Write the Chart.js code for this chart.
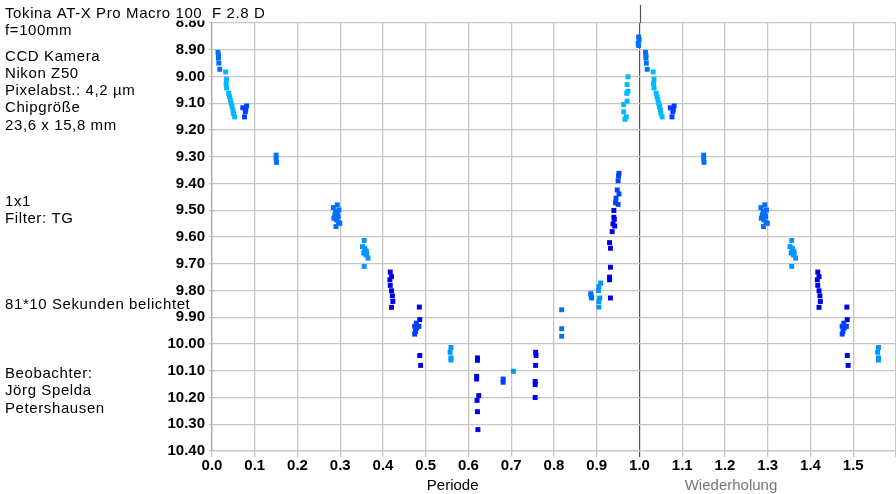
<!DOCTYPE html>
<html>
<head>
<meta charset="utf-8">
<script src="https://cdn.jsdelivr.net/npm/chart.js@4.4.1/dist/chart.umd.min.js"></script>
<style>
  html, body { margin: 0; padding: 0; background: #fff; overflow: hidden; }
  canvas { display: block; }
</style>
</head>
<body>
<canvas id="myChart" width="900" height="494"></canvas>
<script>
// header / observer text
const titleText = 'Tokina AT-X Pro Macro 100';
const lensText = 'F 2.8 D';
const cameraLines = ['f=100mm', 'CCD Kamera', 'Nikon Z50', 'Pixelabst.: 4,2 µm', 'Chipgröße', '23,6 x 15,8 mm'];
const filterLines = ['1x1', 'Filter: TG'];
const exposureLines = ['81*10 Sekunden belichtet'];
const observerLines = ['Beobachter:', 'Jörg Spelda', 'Petershausen'];
const xTitle = 'Periode';
const xTitleRepeat = 'Wiederholung';

// phase / magnitude, one pair of arrays per colour
const mediumPhase = [0.014, 0.015, 0.015, 0.016, 0.018, 0.150, 0.150, 0.151,
  0.284, 0.293, 0.297, 0.287, 0.295, 0.291, 0.299, 0.290, 0.285, 0.289, 0.293, 0.296,
  0.818, 0.818, 0.818, 0.886, 0.887, 0.888, 0.998, 0.999, 0.997, 0.998];
const mediumMag = [8.910, 8.921, 8.931, 8.950, 8.973, 9.294, 9.306, 9.321,
  9.490, 9.480, 9.499, 9.518, 9.524, 9.536, 9.549, 9.561, 9.530, 9.505, 9.512, 9.545,
  9.872, 9.943, 9.971, 9.812, 9.820, 9.828, 8.852, 8.862, 8.877, 8.884];

const cyanPhase = [0.032, 0.034, 0.033, 0.034, 0.039, 0.041, 0.043, 0.045, 0.047, 0.049, 0.050, 0.053,
  0.973, 0.971, 0.973, 0.970, 0.971, 0.963, 0.963, 0.969, 0.966];
const cyanMag = [8.983, 9.010, 9.026, 9.043, 9.063, 9.076, 9.088, 9.101, 9.113, 9.126, 9.138, 9.151,
  9.001, 9.030, 9.055, 9.063, 9.092, 9.105, 9.132, 9.151, 9.160];

const skyPhase = [0.356, 0.352, 0.357, 0.361, 0.355, 0.365, 0.356, 0.360, 0.358, 0.362,
  0.559, 0.557, 0.559, 0.559, 0.705,
  0.909, 0.905, 0.904, 0.907, 0.905, 0.905];
const skyMag = [9.613, 9.636, 9.642, 9.654, 9.660, 9.679, 9.710, 9.667, 9.648, 9.662,
  10.013, 10.031, 10.052, 10.060, 10.102,
  9.772, 9.785, 9.800, 9.828, 9.841, 9.862];

const royalPhase = [0.072, 0.081, 0.078, 0.076, 0.079,
  0.478, 0.474, 0.484, 0.476, 0.474, 0.479,
  0.681, 0.681,
  0.952, 0.951, 0.950, 0.948, 0.952, 0.945, 0.944, 0.950];
const royalMag = [9.117, 9.110, 9.132, 9.151, 9.122,
  9.922, 9.934, 9.934, 9.953, 9.963, 9.940,
  10.131, 10.143,
  9.362, 9.372, 9.390, 9.424, 9.439, 9.455, 9.472, 9.478];

const darkPhase = [0.417, 0.420, 0.416, 0.417, 0.420, 0.422, 0.423, 0.420,
  0.485, 0.486, 0.486, 0.488,
  0.621, 0.621, 0.619, 0.619, 0.624, 0.620, 0.621, 0.622,
  0.757, 0.758, 0.757, 0.756, 0.756, 0.756,
  0.940, 0.940, 0.941, 0.938, 0.942, 0.936, 0.930, 0.932, 0.932, 0.930, 0.930, 0.932];
const darkMag = [9.731, 9.748, 9.760, 9.781, 9.801, 9.820, 9.841, 9.863,
  9.862, 9.909, 10.043, 10.080,
  10.052, 10.061, 10.121, 10.131, 10.193, 10.211, 10.253, 10.320,
  10.031, 10.043, 10.080, 10.140, 10.152, 10.200,
  9.501, 9.526, 9.534, 9.551, 9.559, 9.580, 9.621, 9.642, 9.713, 9.750, 9.760, 9.828];

const xMax = 1.6;

// phase points plus their repetition one period later
function series(phase, mag) {
    const pts = phase.map((p, i) => ({x: p, y: mag[i]}));
    const rep = pts.filter(p => p.x + 1 <= xMax).map(p => ({x: p.x + 1, y: p.y}));
    return pts.concat(rep);
}

function makeSet(label, phase, mag, color) {
    return {
        label: label,
        data: series(phase, mag),
        backgroundColor: color,
        borderColor: color,
        pointStyle: 'rect',
        pointRadius: 3.5,
        pointBorderWidth: 0,
        showLine: false
    };
}

const sideTextPlugin = {
    id: 'sideText',
    afterDraw(chart) {
        const ctx = chart.ctx;
        const xs = chart.scales.x;
        const area = chart.chartArea;
        ctx.save();

        // dark marker at phase 1.0, running up past the plot top
        const x1 = Math.round(xs.getPixelForValue(1)) + 0.5;
        ctx.strokeStyle = '#555';
        ctx.lineWidth = 1.2;
        ctx.beginPath();
        ctx.moveTo(x1, 5);
        ctx.lineTo(x1, area.top);
        ctx.stroke();

        // header band hides upper half of the first y label, like the original
        ctx.fillStyle = '#fff';
        ctx.fillRect(0, 0, area.left - 3, 20.5);

        ctx.fillStyle = '#000';
        ctx.font = '15px "Liberation Sans", Arial, sans-serif';
        ctx.letterSpacing = '0.6px';
        ctx.textAlign = 'left';
        ctx.textBaseline = 'alphabetic';
        ctx.fillText(titleText, 5, 18);
        ctx.fillText(lensText, area.left, 18);

        const lh = 17.3;
        ctx.fillText(cameraLines[0], 5, 35);
        cameraLines.slice(1).forEach((t, i) => ctx.fillText(t, 5, 60.5 + i * lh));
        filterLines.forEach((t, i) => ctx.fillText(t, 5, 206 + i * lh));
        exposureLines.forEach((t, i) => ctx.fillText(t, 5, 309 + i * lh));
        observerLines.forEach((t, i) => ctx.fillText(t, 5, 378 + i * lh));

        ctx.letterSpacing = '0px';
        ctx.textAlign = 'center';
        ctx.fillText(xTitle, xs.getPixelForValue(0.563), 489.5);
        ctx.fillStyle = '#777';
        ctx.fillText(xTitleRepeat, xs.getPixelForValue(1.214), 489.5);
        ctx.restore();
    }
};

const gridGray = '#c6c6c6';
const tickFont = { family: '"Liberation Sans", Arial, sans-serif', size: 15, weight: 'bold' };

const config = {
    type: 'scatter',
    data: {
        datasets: [
            makeSet('medium', mediumPhase, mediumMag, '#0070ff'),
            makeSet('cyan', cyanPhase, cyanMag, '#00b8ff'),
            makeSet('sky', skyPhase, skyMag, '#0098ff'),
            makeSet('royal', royalPhase, royalMag, '#0040ff'),
            makeSet('dark', darkPhase, darkMag, '#0000e8')
        ]
    },
    options: {
        responsive: false,
        animation: false,
        layout: {
            padding: { top: 23, right: 2, bottom: 0, left: 0 }
        },
        scales: {
            x: {
                type: 'linear',
                min: 0,
                max: xMax,
                afterFit: function(scale) { scale.height = 43; },
                ticks: {
                    stepSize: 0.1,
                    autoSkip: false,
                    maxRotation: 0,
                    padding: 0,
                    color: '#000',
                    font: tickFont,
                    callback: function(value) {
                        return value > 1.55 ? '' : value.toFixed(1);
                    }
                },
                grid: {
                    color: function(c) {
                        return c.tick && Math.abs(c.tick.value - 1) < 1e-6 ? '#555' : gridGray;
                    },
                    lineWidth: function(c) {
                        return c.tick && Math.abs(c.tick.value - 1) < 1e-6 ? 1.2 : 1.3;
                    },
                    tickLength: 6
                },
                border: { color: gridGray, width: 1.3 }
            },
            y: {
                type: 'linear',
                reverse: true,
                min: 8.8,
                max: 10.4,
                afterFit: function(scale) { scale.width = 212; },
                ticks: {
                    stepSize: 0.1,
                    autoSkip: false,
                    padding: 4,
                    color: '#000',
                    font: tickFont,
                    callback: function(value) { return value.toFixed(2); }
                },
                grid: {
                    color: gridGray,
                    lineWidth: 1.3,
                    tickLength: 3
                },
                border: { color: '#a8a8a8', width: 1.3 }
            }
        },
        plugins: {
            legend: { display: false },
            tooltip: { enabled: false }
        }
    },
    plugins: [sideTextPlugin]
};

const myChart = document.getElementById('myChart');
const chart = new Chart(myChart, config);
</script>
</body>
</html>
